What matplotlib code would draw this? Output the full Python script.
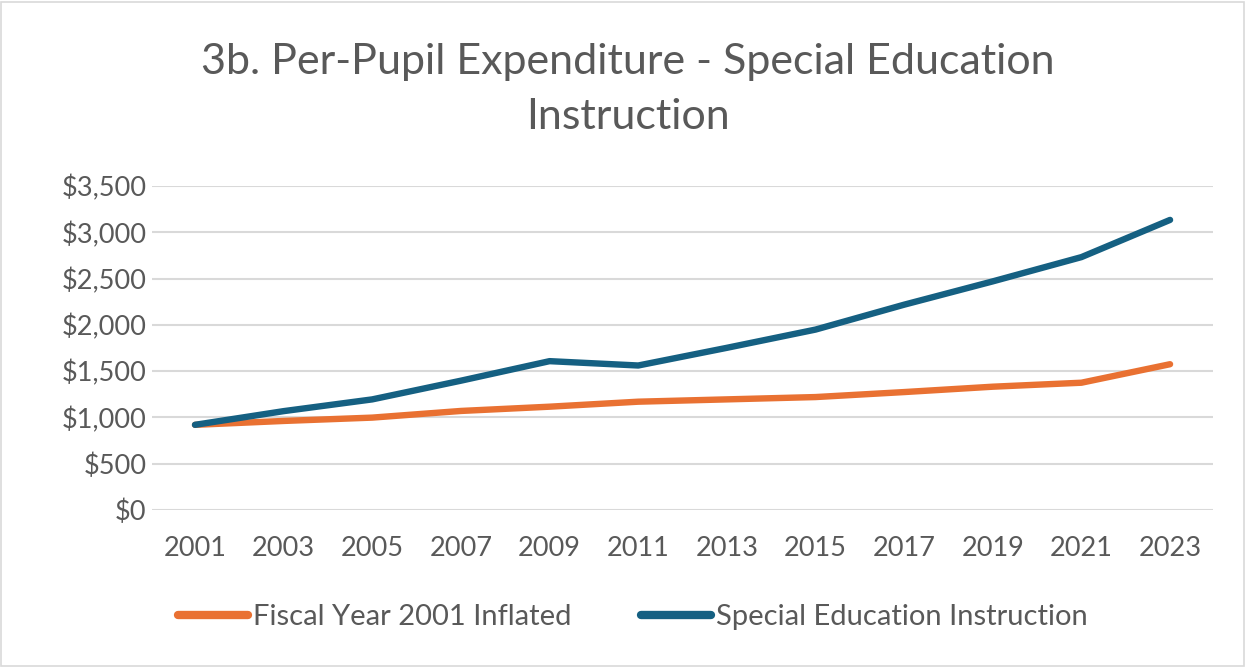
import matplotlib
matplotlib.use("Agg")
import matplotlib.pyplot as plt
from matplotlib.ticker import FuncFormatter, MultipleLocator
from matplotlib.patches import Rectangle

years = ["2001", "2003", "2005", "2007", "2009", "2011",
         "2013", "2015", "2017", "2019", "2021", "2023"]
fy2001_inflated = [920, 962, 998, 1070, 1116, 1170, 1195, 1220, 1274, 1332, 1375, 1575]
sped_instruction = [920, 1068, 1195, 1397, 1608, 1561, 1752, 1949, 2218, 2470, 2732, 3134]

title = "3b. Per-Pupil Expenditure - Special Education\nInstruction"
label_orange = "Fiscal Year 2001 Inflated"
label_blue = "Special Education Instruction"

ORANGE = "#E97132"
BLUE = "#156082"
TEXT = "#595959"
GRID = "#D9D9D9"

plt.rcParams['font.family'] = ['Lato', 'DejaVu Sans']

fig = plt.figure(figsize=(12.48, 6.67), dpi=100)
ax = fig.add_axes([0.1218, 0.2354, 0.972 - 0.1218, 0.7211 - 0.2354])

x = list(range(len(years)))
ax.plot(x, fy2001_inflated, color=ORANGE, lw=4.6, solid_capstyle='round',
        solid_joinstyle='round', label=label_orange, zorder=3)
ax.plot(x, sped_instruction, color=BLUE, lw=4.6, solid_capstyle='round',
        solid_joinstyle='round', label=label_blue, zorder=4)

ax.set_xlim(-0.485, len(years) - 1 + 0.485)
ax.set_ylim(0, 3500)
ax.yaxis.set_major_locator(MultipleLocator(500))
ax.yaxis.set_major_formatter(FuncFormatter(lambda v, p: f"${v:,.0f}"))
ax.set_xticks(x)
ax.set_xticklabels(years)

ax.grid(axis='y', color=GRID, lw=1.5)
ax.set_axisbelow(True)
for s in ax.spines.values():
    s.set_visible(False)
ax.tick_params(axis='both', length=0, colors=TEXT, labelsize=19.5)
ax.tick_params(axis='y', pad=4)
ax.tick_params(axis='x', pad=19)

fig.text(0.503, 0.866, title, ha='center', va='center', fontsize=31,
         color=TEXT, linespacing=1.55)

leg = fig.legend(loc='center', bbox_to_anchor=(0.507, 0.075), ncol=2, frameon=False,
                 fontsize=21, handlelength=2.4, handletextpad=0.17,
                 columnspacing=2.4, labelcolor=TEXT)
for h in leg.get_lines():
    h.set_linewidth(6)

fig.patches.append(Rectangle((0.001, 0.001), 0.996, 0.996, transform=fig.transFigure,
                             fill=False, edgecolor="#D9D9D9", lw=1.2))

fig.savefig("out.png", dpi=100, facecolor="white")
